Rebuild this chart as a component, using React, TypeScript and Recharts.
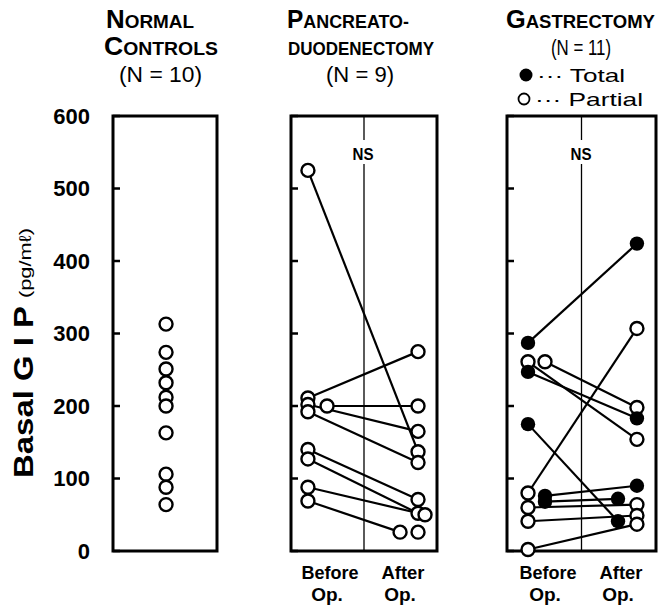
import React from 'react';
import { ScatterChart, Scatter, XAxis, YAxis, ReferenceArea, ReferenceLine } from 'recharts';

// basal GIP, pg/ml
const yTicks = [0, 100, 200, 300, 400, 500, 600];
const normalControls = [313, 274, 251, 232, 212, 200, 163, 106, 88, 64];

const pdBefore = [525, 211, 200, 202, 192, 140, 127, 88, 69];
const pdAfter = [137, 275, 200, 165, 122, 71, 52, 50, 26];
const pdAfterUnpaired = [26];

const gaBefore = [287, 261, 247, 261, 175, 80, 76, 68, 60, 41, 2];
const gaAfter = [424, 198, 183, 154, 41, 307, 90, 72, 64, 49, 37];
const gaType = ['T', 'P', 'T', 'P', 'T', 'P', 'T', 'T', 'P', 'P', 'P'];

// small sideways shifts used in the figure so overlapping circles stay visible
const pdBeforeLane = [0, 0, 1, 0, 0, 0, 0, 0, 0];
const pdAfterLane = [0, 0, 0, 0, 0, 0, 0, 1, -1];
const gaBeforeLane = [0, 1, 0, 0, 0, 0, 1, 1, 0, 0, 0];
const gaAfterLane = [0, 0, 0, 0, -1, 0, 0, -1, 0, 0, 0];

const FONT = '"Liberation Sans", Arial, sans-serif';
const H = 610;
const TOP = 116;
const BOTTOM = 59;

const OpenDot = (p: any) => (
  <circle cx={p.cx} cy={p.cy} r={6.5} fill="#fff" stroke="#000" strokeWidth={2.4} />
);
const FilledDot = (p: any) => <circle cx={p.cx} cy={p.cy} r={7.2} fill="#000" />;
const NoDot = () => <g />;

const pdX = {
  before: { '0': 0.116, '1': 0.247 } as Record<string, number>,
  after: { '0': 0.87, '-1': 0.747, '1': 0.918 } as Record<string, number>,
};
const gaX = {
  before: { '0': 0.141, '1': 0.255 } as Record<string, number>,
  after: { '0': 0.872, '-1': 0.745 } as Record<string, number>,
};

function pairLines(before: number[], after: number[], bl: number[], al: number[], xs: typeof pdX, key: string) {
  return before.map((b, i) => (
    <Scatter
      key={`${key}-l${i}`}
      data={[
        { x: xs.before[String(bl[i])], y: b },
        { x: xs.after[String(al[i])], y: after[i] },
      ]}
      line={{ stroke: '#000', strokeWidth: 2.2 }}
      lineType="joint"
      shape={NoDot}
      isAnimationActive={false}
    />
  ));
}

interface PanelProps {
  left: number;
  axisWidth: number;
  plotWidth: number;
  labels?: boolean;
  divider?: boolean;
  children?: React.ReactNode;
}

function Panel({ left, axisWidth, plotWidth, labels, divider, children }: PanelProps) {
  return (
    <div style={{ position: 'absolute', left, top: 0 }}>
      <ScatterChart
        width={axisWidth + plotWidth + 10}
        height={H}
        margin={{ top: TOP, bottom: BOTTOM, left: 0, right: 0 }}
      >
        <XAxis type="number" dataKey="x" domain={[0, 1]} hide />
        <YAxis
          type="number"
          dataKey="y"
          domain={[0, 600]}
          ticks={yTicks}
          interval={0}
          width={axisWidth}
          axisLine={false}
          tickSize={-7}
          tickMargin={labels ? 30 : 0}
          tickLine={{ stroke: '#000', strokeWidth: 2.5 }}
          tick={{ fill: '#000', fontSize: 22, fontWeight: 700, fontFamily: FONT }}
          tickFormatter={labels ? undefined : () => ''}
        />
        <YAxis
          yAxisId="r"
          orientation="right"
          type="number"
          domain={[0, 600]}
          ticks={yTicks}
          interval={0}
          width={10}
          axisLine={false}
          tickSize={-7}
          tickLine={{ stroke: '#000', strokeWidth: 2.5 }}
          tickFormatter={() => ''}
        />
        <ReferenceArea
          x1={0}
          x2={1}
          y1={0}
          y2={600}
          fill="none"
          stroke="#000"
          strokeWidth={3}
          ifOverflow="visible"
        />
        {divider && <ReferenceLine x={0.5} stroke="#000" strokeWidth={1.3} />}
        {children}
      </ScatterChart>
    </div>
  );
}

export default function App() {
  const normalPts = normalControls.map((v) => ({ x: 0.51, y: v }));

  const pdPts = [
    ...pdBefore.map((v, i) => ({ x: pdX.before[String(pdBeforeLane[i])], y: v })),
    ...pdAfter.map((v, i) => ({ x: pdX.after[String(pdAfterLane[i])], y: v })),
    ...pdAfterUnpaired.map((v) => ({ x: pdX.after['0'], y: v })),
  ];

  const gaAll = [
    ...gaBefore.map((v, i) => ({ x: gaX.before[String(gaBeforeLane[i])], y: v, t: gaType[i] })),
    ...gaAfter.map((v, i) => ({ x: gaX.after[String(gaAfterLane[i])], y: v, t: gaType[i] })),
  ];
  const gaOpen = gaAll.filter((p) => p.t === 'P');
  const gaTotal = gaAll.filter((p) => p.t === 'T');

  const title = { fontFamily: FONT, fontWeight: 700, fill: '#000' } as const;
  const plain = { fontFamily: FONT, fontWeight: 400, fill: '#000' } as const;

  return (
    <div style={{ position: 'absolute', left: 0, top: 0, width: 668, height: H, background: '#fff' }}>
      <Panel left={0} axisWidth={113} plotWidth={104} labels>
        <Scatter data={normalPts} shape={OpenDot} isAnimationActive={false} />
      </Panel>

      <Panel left={281} axisWidth={10} plotWidth={146} divider>
        {pairLines(pdBefore, pdAfter, pdBeforeLane, pdAfterLane, pdX, 'pd')}
        <Scatter data={pdPts} shape={OpenDot} isAnimationActive={false} />
      </Panel>

      <Panel left={497} axisWidth={10} plotWidth={149} divider>
        {pairLines(gaBefore, gaAfter, gaBeforeLane, gaAfterLane, gaX, 'ga')}
        <Scatter data={gaOpen} shape={OpenDot} isAnimationActive={false} />
        <Scatter data={gaTotal} shape={FilledDot} isAnimationActive={false} />
      </Panel>

      <svg width={668} height={H} style={{ position: 'absolute', left: 0, top: 0, pointerEvents: 'none' }}>
        {/* panel headings */}
        <text {...title} x={106} y={28} fontSize={26} textLength={88} lengthAdjust="spacingAndGlyphs">
          N<tspan fontSize={19}>ORMAL</tspan>
        </text>
        <text {...title} x={104} y={55} fontSize={26} textLength={114} lengthAdjust="spacingAndGlyphs">
          C<tspan fontSize={19}>ONTROLS</tspan>
        </text>
        <text {...plain} x={119} y={82} fontSize={22} textLength={83} lengthAdjust="spacingAndGlyphs">
          (N = 10)
        </text>

        <text {...title} x={287} y={28} fontSize={26} textLength={122} lengthAdjust="spacingAndGlyphs">
          P<tspan fontSize={19}>ANCREATO-</tspan>
        </text>
        <text {...title} x={288} y={55} fontSize={19} textLength={146} lengthAdjust="spacingAndGlyphs">
          DUODENECTOMY
        </text>
        <text {...plain} x={326} y={82} fontSize={22} textLength={68} lengthAdjust="spacingAndGlyphs">
          (N = 9)
        </text>

        <text {...title} x={506} y={28} fontSize={26} textLength={149} lengthAdjust="spacingAndGlyphs">
          G<tspan fontSize={19}>ASTRECTOMY</tspan>
        </text>
        <text {...plain} x={551} y={55} fontSize={22} textLength={60} lengthAdjust="spacingAndGlyphs">
          (N = 11)
        </text>
        <circle cx={526} cy={75} r={6.5} fill="#000" />
        <text {...plain} x={537} y={82} fontSize={19} textLength={88} lengthAdjust="spacingAndGlyphs">
          ··· Total
        </text>
        <circle cx={524} cy={99} r={5.5} fill="#fff" stroke="#000" strokeWidth={1.8} />
        <text {...plain} x={535} y={106} fontSize={19} textLength={108} lengthAdjust="spacingAndGlyphs">
          ··· Partial
        </text>

        {/* NS marks over the dividers */}
        <rect x={350} y={140} width={26} height={24} fill="#fff" />
        <text {...title} x={363} y={160} fontSize={16} textAnchor="middle" textLength={21} lengthAdjust="spacingAndGlyphs">
          NS
        </text>
        <rect x={568} y={140} width={26} height={24} fill="#fff" />
        <text {...title} x={581} y={160} fontSize={16} textAnchor="middle" textLength={21} lengthAdjust="spacingAndGlyphs">
          NS
        </text>

        {/* y-axis title */}
        <g transform="rotate(-90)">
          <text {...title} x={-478} y={33} fontSize={27} textLength={172} lengthAdjust="spacingAndGlyphs">
            Basal G I P
          </text>
          <text {...plain} x={-298} y={31} fontSize={17} textLength={70} lengthAdjust="spacingAndGlyphs">
            (pg/mℓ)
          </text>
        </g>

        {/* before / after labels */}
        <text {...title} x={330} y={579} fontSize={19} textAnchor="middle" textLength={57} lengthAdjust="spacingAndGlyphs">Before</text>
        <text {...title} x={327} y={601} fontSize={19} textAnchor="middle">Op.</text>
        <text {...title} x={403} y={579} fontSize={19} textAnchor="middle" textLength={43} lengthAdjust="spacingAndGlyphs">After</text>
        <text {...title} x={400} y={601} fontSize={19} textAnchor="middle">Op.</text>
        <text {...title} x={548} y={579} fontSize={19} textAnchor="middle" textLength={57} lengthAdjust="spacingAndGlyphs">Before</text>
        <text {...title} x={545} y={601} fontSize={19} textAnchor="middle">Op.</text>
        <text {...title} x={621} y={579} fontSize={19} textAnchor="middle" textLength={43} lengthAdjust="spacingAndGlyphs">After</text>
        <text {...title} x={618} y={601} fontSize={19} textAnchor="middle">Op.</text>
      </svg>
    </div>
  );
}
